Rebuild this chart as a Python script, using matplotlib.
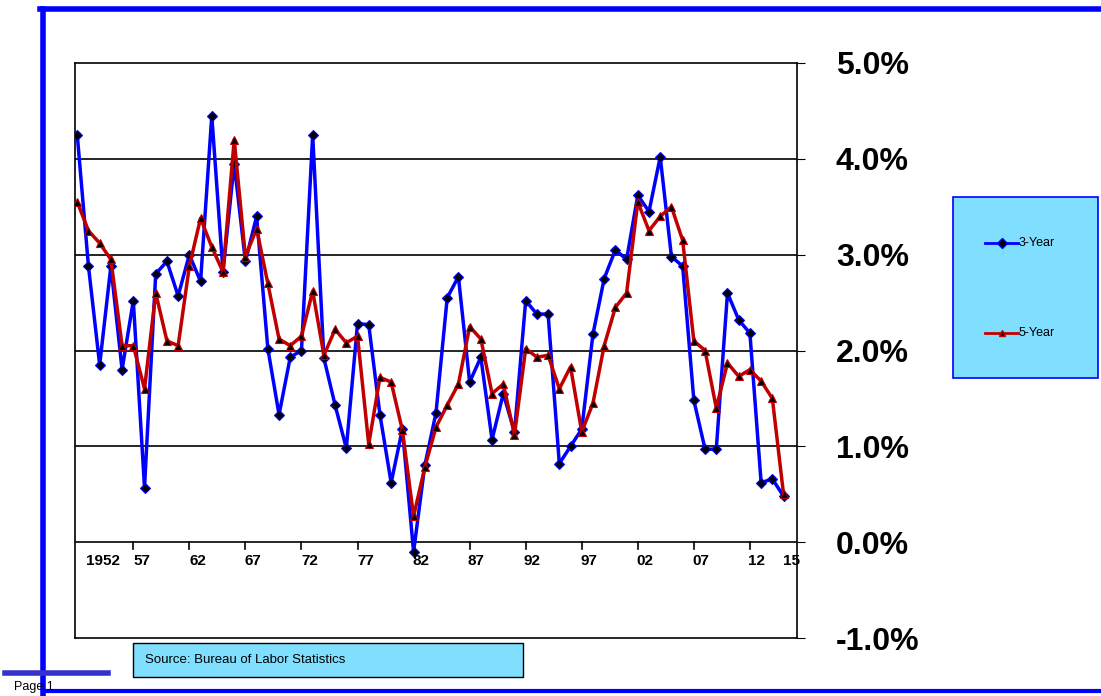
import matplotlib
matplotlib.use("Agg")
import matplotlib.pyplot as plt
from matplotlib.patches import Rectangle
from matplotlib.lines import Line2D

years = list(range(1951, 2015))
three_year = [4.25, 2.88, 1.85, 2.88, 1.80, 2.52, 0.57, 2.80, 2.93, 2.57,
              3.00, 2.72, 4.45, 2.82, 3.95, 2.93, 3.40, 2.02, 1.33, 1.93,
              2.00, 4.25, 1.92, 1.43, 0.98, 2.28, 2.27, 1.33, 0.62, 1.18,
              -0.10, 0.80, 1.35, 2.55, 2.77, 1.67, 1.93, 1.07, 1.55, 1.15,
              2.52, 2.38, 2.38, 0.82, 1.00, 1.18, 2.17, 2.75, 3.05, 2.95,
              3.62, 3.45, 4.02, 2.98, 2.88, 1.48, 0.97, 0.97, 2.60, 2.32,
              2.18, 0.62, 0.66, 0.48]
five_year = [3.55, 3.25, 3.12, 2.95, 2.05, 2.05, 1.60, 2.60, 2.10, 2.05,
             2.88, 3.38, 3.08, 2.82, 4.20, 2.98, 3.27, 2.70, 2.12, 2.05,
             2.15, 2.62, 1.95, 2.22, 2.08, 2.15, 1.02, 1.72, 1.67, 1.17,
             0.27, 0.78, 1.20, 1.43, 1.65, 2.25, 2.12, 1.55, 1.65, 1.12,
             2.02, 1.93, 1.95, 1.60, 1.83, 1.15, 1.45, 2.05, 2.45, 2.60,
             3.55, 3.25, 3.40, 3.50, 3.15, 2.10, 2.00, 1.40, 1.87, 1.73,
             1.80, 1.68, 1.50, 0.50]
xlabels = ["1952", "57", "62", "67", "72", "77", "82", "87", "92", "97", "02", "07", "12", "15"]
xlabel_pos = [1953.3, 1956.8, 1961.8, 1966.7, 1971.7, 1976.7, 1981.7, 1986.6, 1991.6, 1996.6, 2001.6, 2006.6, 2011.6, 2014.7]
yticks = [-1, 0, 1, 2, 3, 4, 5]

fig = plt.figure(figsize=(11.01, 6.96), dpi=100)
W, H = 1101, 696
ax = fig.add_axes([75 / W, 1 - 638 / H, (797 - 75) / W, (638 - 63) / H])

ax.plot(years, three_year, color="#0000FF", lw=2.5, marker="D", ms=5,
        mfc="black", mec="#0000FF", mew=0.8, label="3-Year", zorder=3)
ax.plot(years, five_year, color="#C00000", lw=2.5, marker="^", ms=6,
        mfc="black", mec="#C00000", mew=0.8, label="5-Year", zorder=4)

ax.set_xlim(1950.8, 2015.2)
ax.set_ylim(-1, 5)
for v in [0, 1, 2, 3, 4]:
    ax.axhline(v, color="black", lw=1.2, zorder=1)
for s in ax.spines.values():
    s.set_color("black")
    s.set_linewidth(1.2)

ax.yaxis.tick_right()
ax.set_yticks(yticks)
ax.set_yticklabels(["%.1f%%" % v for v in yticks], fontsize=23, fontweight="bold",
                   family="Liberation Sans")
ax.tick_params(axis="y", direction="out", length=6, pad=22, right=True, left=False)
ax.set_xticks([])
for yr in range(1956, 2016, 5):
    ax.plot([yr, yr], [0, -0.07], color="black", lw=1.2, clip_on=False)
for p, t in zip(xlabel_pos, xlabels):
    ax.text(p, -0.12, t, ha="center", va="top", fontsize=11, fontweight="bold",
            family="Liberation Sans")

# legend box
fig.patches.append(Rectangle((953 / W, 1 - 378 / H), 145 / W, 181 / H,
                             transform=fig.transFigure, facecolor="#80DFFF",
                             edgecolor="#0000FF", lw=1.2))
for yy, col, mk, lab in [(243, "#0000FF", "D", "3-Year"), (333, "#C00000", "^", "5-Year")]:
    fig.lines.append(Line2D([985 / W, 1002 / W, 1018 / W], [1 - yy / H] * 3, transform=fig.transFigure,
                            color=col, lw=2, marker=mk, markevery=[1], ms=5, mfc="black", mec=col))
    fig.text(1019 / W, 1 - yy / H, lab, fontsize=9, va="center", family="Liberation Sans")

# source box
fig.patches.append(Rectangle((133 / W, 1 - 677 / H), 390 / W, 34 / H,
                             transform=fig.transFigure, facecolor="#80DFFF",
                             edgecolor="black", lw=1))
fig.text(145 / W, 1 - 660 / H, "Source: Bureau of Labor Statistics", fontsize=9.5,
         va="center", family="Liberation Sans")

# page frame
blue = "#0000FF"
fig.lines.append(Line2D([40 / W, 1], [1 - 9 / H] * 2, transform=fig.transFigure, color=blue, lw=4))
fig.lines.append(Line2D([43 / W] * 2, [1 - 9 / H, 0], transform=fig.transFigure, color=blue, lw=4))
fig.lines.append(Line2D([43 / W, 1], [1 - 691 / H] * 2, transform=fig.transFigure, color=blue, lw=3))
fig.lines.append(Line2D([5 / W, 108 / W], [1 - 673 / H] * 2, transform=fig.transFigure, color="#3333CC", lw=4))
fig.text(14 / W, 1 - 687 / H, "Page 1", fontsize=9, va="center", family="Liberation Sans")

fig.savefig("out.png", dpi=100)
